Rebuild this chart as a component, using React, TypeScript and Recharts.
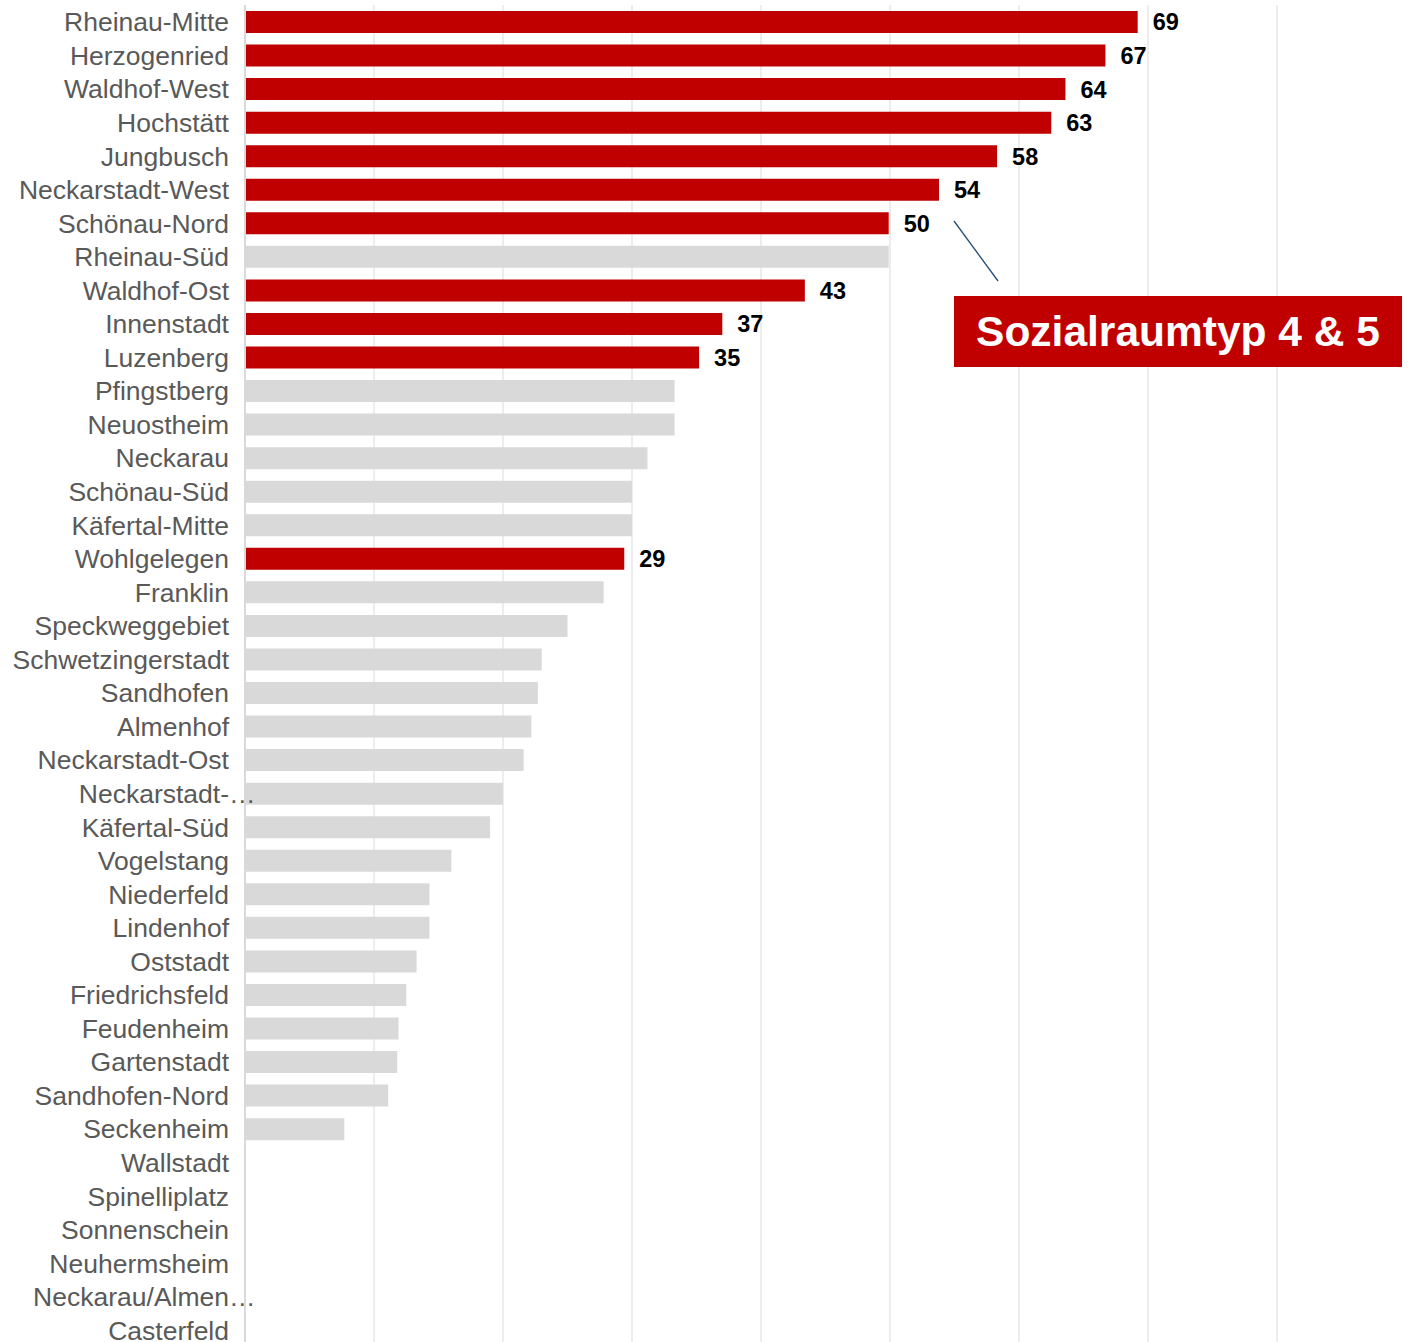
import React from 'react';
import { BarChart, Bar, XAxis, YAxis, CartesianGrid, Cell, LabelList } from 'recharts';

const districts = [
  'Rheinau-Mitte', 'Herzogenried', 'Waldhof-West', 'Hochstätt', 'Jungbusch',
  'Neckarstadt-West', 'Schönau-Nord', 'Rheinau-Süd', 'Waldhof-Ost', 'Innenstadt',
  'Luzenberg', 'Pfingstberg', 'Neuostheim', 'Neckarau', 'Schönau-Süd',
  'Käfertal-Mitte', 'Wohlgelegen', 'Franklin', 'Speckweggebiet', 'Schwetzingerstadt',
  'Sandhofen', 'Almenhof', 'Neckarstadt-Ost', 'Neckarstadt-…', 'Käfertal-Süd',
  'Vogelstang', 'Niederfeld', 'Lindenhof', 'Oststadt', 'Friedrichsfeld',
  'Feudenheim', 'Gartenstadt', 'Sandhofen-Nord', 'Seckenheim', 'Wallstadt',
  'Spinelliplatz', 'Sonnenschein', 'Neuhermsheim', 'Neckarau/Almen…', 'Casterfeld',
];

const shares = [
  69.2, 66.7, 63.6, 62.5, 58.3,
  53.8, 49.9, 49.9, 43.4, 37.0,
  35.2, 33.3, 33.3, 31.2, 30.0,
  30.0, 29.4, 27.8, 25.0, 23.0,
  22.7, 22.2, 21.6, 20.0, 19.0,
  16.0, 14.3, 14.3, 13.3, 12.5,
  11.9, 11.8, 11.1, 7.7, 0,
  0, 0, 0, 0, 0,
];

// districts of Sozialraumtyp 4 & 5
const typ45 = [
  'Rheinau-Mitte', 'Herzogenried', 'Waldhof-West', 'Hochstätt', 'Jungbusch',
  'Neckarstadt-West', 'Schönau-Nord', 'Waldhof-Ost', 'Innenstadt', 'Luzenberg', 'Wohlgelegen',
];

const X_MAX = 90;
const gridTicks = [10, 20, 30, 40, 50, 60, 70, 80];

const RED = '#C00000';
const GREY = '#D9D9D9';
const FONT = '"Liberation Sans", Arial, Helvetica, sans-serif';

const data = districts.map((name, i) => ({
  name,
  value: shares[i],
  hl: typ45.includes(name),
}));

function DistrictTick(props: any) {
  const { x, y, payload } = props;
  const label: string = payload.value;
  const cut = label.endsWith('…');
  const base = cut ? label.slice(0, -1) : label;
  return (
    <g>
      <text x={x} y={y} dy="0.36em" textAnchor="end" fill="#595959" fontSize={26.5} fontFamily={FONT}>
        {base}
      </text>
      {cut && (
        <text x={x} y={y} dy="0.36em" textAnchor="start" fill="#595959" fontSize={26.5} fontFamily={FONT}>
          …
        </text>
      )}
    </g>
  );
}

function ValueLabel(props: any) {
  const { x, y, width, height, value, index } = props;
  if (!data[index] || !data[index].hl) return null;
  return (
    <text
      x={x + width + 15}
      y={y + height / 2}
      dy="0.36em"
      fill="#000"
      fontSize={23.5}
      fontWeight="bold"
      fontFamily={FONT}
    >
      {Math.round(value)}
    </text>
  );
}

export default function App() {
  return (
    <div style={{ position: 'relative', width: 1411, height: 1342, overflow: 'hidden', background: '#fff' }}>
      <style>{'body{margin:0;overflow:hidden;}'}</style>
      <BarChart
        width={1411}
        height={1352}
        data={data}
        layout="vertical"
        margin={{ top: 5, right: 5, bottom: 5, left: 0 }}
        barSize={22}
      >
        <CartesianGrid
          horizontal={false}
          vertical
          stroke="#EDEDED"
          strokeWidth={2}
          verticalCoordinatesGenerator={({ offset }: any) =>
            gridTicks.map((t) => offset.left + (offset.width * t) / X_MAX)
          }
        />
        <XAxis type="number" domain={[0, X_MAX]} hide />
        <YAxis
          type="category"
          dataKey="name"
          width={245}
          interval={0}
          tickLine={false}
          tickSize={6}
          tickMargin={10}
          axisLine={{ stroke: '#D9D9D9', strokeWidth: 2 }}
          tick={<DistrictTick />}
        />
        <Bar dataKey="value" isAnimationActive={false}>
          {data.map((d) => (
            <Cell key={d.name} fill={d.hl ? RED : GREY} />
          ))}
          <LabelList dataKey="value" content={<ValueLabel />} />
        </Bar>
      </BarChart>
      <svg style={{ position: 'absolute', left: 0, top: 0, pointerEvents: 'none' }} width={1411} height={1342}>
        <line x1={954} y1={221} x2={998} y2={281} stroke="#1F4E79" strokeWidth={1.3} />
      </svg>
      <div
        style={{
          position: 'absolute',
          left: 954,
          top: 296,
          width: 448,
          height: 71,
          background: RED,
          color: '#fff',
          fontFamily: FONT,
          fontWeight: 'bold',
          fontSize: 42.5,
          lineHeight: '71px',
          textAlign: 'center',
          whiteSpace: 'nowrap',
        }}
      >
        Sozialraumtyp 4 &amp; 5
      </div>
    </div>
  );
}
